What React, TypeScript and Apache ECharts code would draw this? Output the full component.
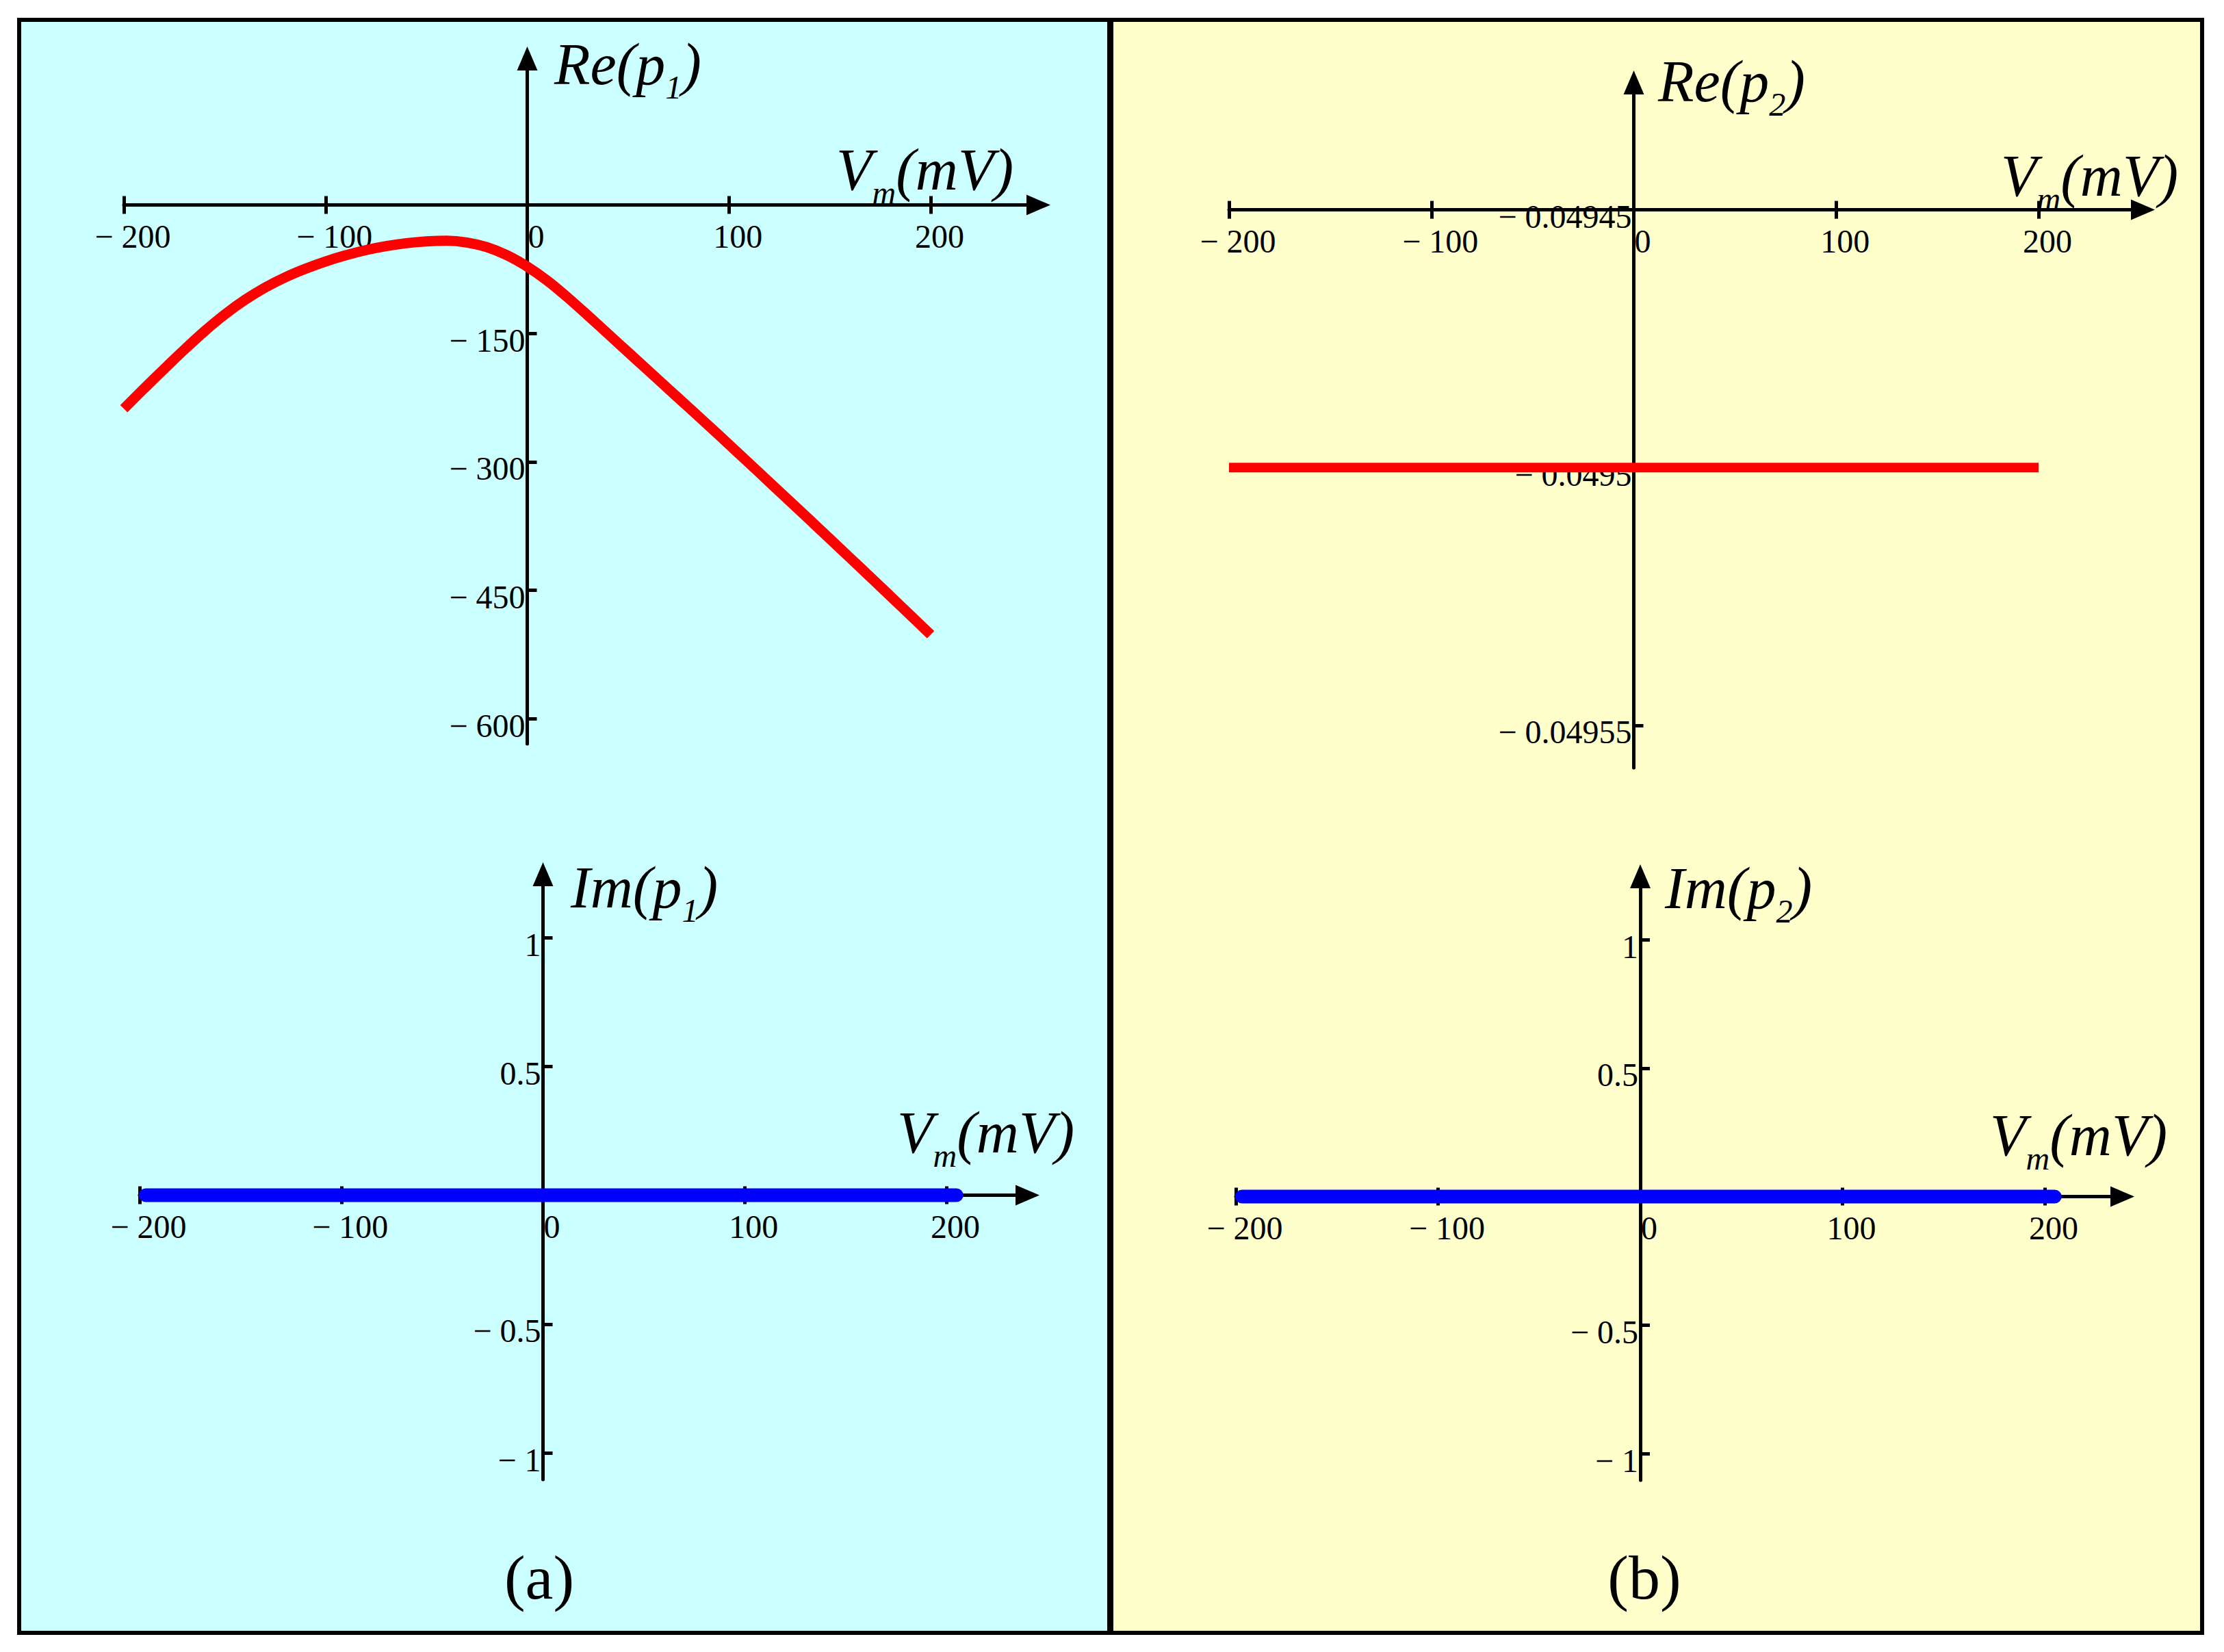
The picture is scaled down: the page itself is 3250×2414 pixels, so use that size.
import React, { useEffect, useRef } from "react";
import * as echarts from "echarts";

// ---------- data ----------
const VM_TICKS = [-200, -100, 0, 100, 200];
const RE_P1_TICKS = [-150, -300, -450, -600];
const RE_P2_TICKS = [-0.04945, -0.0495, -0.04955];
const IM_TICKS = [1, 0.5, -0.5, -1];

const vm = [
  -200, -190, -180, -170, -160, -150, -140, -130, -120, -110, -100, -90, -80, -70, -60, -50, -40, -30, -20, -10,
  0, 10, 20, 30, 40, 50, 60, 70, 80, 90, 100, 110, 120, 130, 140, 150, 160, 170, 180, 190, 200,
];
const reP1 = [
  -238, -214.5, -191.5, -169, -147.5, -128, -111, -96.5, -84.5, -74.5, -66, -58.8, -52.8, -48.1, -44.7, -42.6, -41.8,
  -43.8, -49.3, -58.8, -72, -88.5, -108, -129, -150.5, -172, -193.5, -215, -236.5, -258, -279.8, -301.7, -323.7,
  -345.7, -367.8, -390, -412.2, -434.5, -456.9, -479.4, -502,
];
const reP2Vm = [-200, 200];
const reP2 = [-0.0495, -0.0495];
const imVm = [-197, 205];
const imP1 = [0, 0];
const imP2 = [0, 0];

// ---------- style ----------
const SERIF = "'Liberation Serif', 'Times New Roman', serif";
const BLACK = "#000000";
const CYAN = "#CCFFFF";
const YELLOW = "#FFFFCC";
const RED = "#FF0000";
const BLUE = "#0000FF";

const labelFmt = (v: number) => (v < 0 ? "\u2212 " + String(-v) : String(v));

type Layout = {
  xA: number; // pixel of x = -200
  xB: number; // pixel of x = 200
  xEnd: number; // pixel of x-axis end (arrow base)
  yValA: number;
  yPxA: number;
  yValB: number;
  yPxB: number;
  yTop: number; // y-axis end (arrow base)
  yBottom: number;
  yCross: number; // value where the x axis crosses
};

const LAYOUTS: Layout[] = [
  { xA: 181, xB: 1360, xEnd: 1500, yValA: 0, yPxA: 299.5, yValB: -600, yPxB: 1050, yTop: 103, yBottom: 1087, yCross: 0 },
  { xA: 1796, xB: 2979, xEnd: 3114, yValA: -0.04945, yPxA: 306.6, yValB: -0.04955, yPxB: 1059.8, yTop: 138, yBottom: 1122, yCross: -0.04945 },
  { xA: 204, xB: 1383, xEnd: 1484, yValA: 1, yPxA: 1370, yValB: -1, yPxB: 2123, yTop: 1295, yBottom: 2162, yCross: 0 },
  { xA: 1806, xB: 2988, xEnd: 3084, yValA: 1, yPxA: 1373, yValB: -1, yPxB: 2124, yTop: 1298, yBottom: 2163, yCross: 0 },
];
const Y_TICKS = [RE_P1_TICKS, RE_P2_TICKS, IM_TICKS, IM_TICKS];

const axisLineStyle = { color: BLACK, width: 5 };
const TICK_FONT = 48;

function buildPlot(i: number, L: Layout, yTicks: number[]) {
  const kx = (L.xB - L.xA) / 400;
  const xMin = -200;
  const xMax = -200 + (L.xEnd - L.xA) / kx;
  const ky = (L.yPxB - L.yPxA) / (L.yValA - L.yValB);
  const yMax = L.yValA + (L.yPxA - L.yTop) / ky;
  const yMin = L.yValA - (L.yBottom - L.yPxA) / ky;
  const crossPx = L.yPxA + (L.yValA - L.yCross) * ky;
  const zeroPx = L.xA + 200 * kx;

  const grid = {
    left: L.xA,
    top: L.yTop,
    width: L.xEnd - L.xA,
    height: L.yBottom - L.yTop,
    containLabel: false,
    outerBoundsMode: "none",
    show: false,
  };
  const xOffset = crossPx - L.yBottom;
  const yOffset = -(zeroPx - L.xA);

  const xMain = {
    type: "value",
    gridIndex: i,
    min: xMin,
    max: xMax,
    position: "bottom",
    offset: xOffset,
    axisLine: {
      show: true,
      onZero: false,
      lineStyle: axisLineStyle,
      symbol: ["none", "triangle"],
      symbolSize: [30, 35],
      symbolOffset: [0, 17.5],
    },
    axisTick: { show: true, inside: false, length: 13, lineStyle: axisLineStyle, customValues: VM_TICKS },
    axisLabel: {
      show: true,
      customValues: VM_TICKS,
      formatter: labelFmt,
      margin: 22,
      fontFamily: SERIF,
      fontSize: TICK_FONT,
      color: BLACK,
      padding: [0, 0, 0, 26],
      showMinLabel: true,
      showMaxLabel: true,
    },
    splitLine: { show: false },
  };
  const xUp = {
    type: "value",
    gridIndex: i,
    min: xMin,
    max: xMax,
    position: "bottom",
    offset: xOffset,
    axisLine: { show: false, onZero: false },
    axisTick: { show: true, inside: true, length: 13, lineStyle: axisLineStyle, customValues: VM_TICKS },
    axisLabel: { show: false },
    splitLine: { show: false },
  };
  const yAx = {
    type: "value",
    gridIndex: i,
    min: yMin,
    max: yMax,
    position: "left",
    offset: yOffset,
    axisLine: {
      show: true,
      onZero: false,
      lineStyle: axisLineStyle,
      symbol: ["none", "triangle"],
      symbolSize: [30, 35],
      symbolOffset: [0, 17.5],
    },
    axisTick: { show: true, inside: true, length: 14, lineStyle: axisLineStyle, customValues: yTicks },
    axisLabel: {
      show: true,
      customValues: yTicks,
      formatter: labelFmt,
      margin: 3,
      fontFamily: SERIF,
      fontSize: TICK_FONT,
      color: BLACK,
      verticalAlign: "top",
      lineHeight: 20,
      showMinLabel: true,
      showMaxLabel: true,
    },
    splitLine: { show: false },
  };
  return { grid, xAxes: [xMain, xUp], yAxis: yAx };
}

const richStyles = {
  m: { fontFamily: SERIF, fontStyle: "italic", fontSize: 86, lineHeight: 114, verticalAlign: "middle", fill: BLACK },
  s: { fontFamily: SERIF, fontStyle: "italic", fontSize: 48, lineHeight: 48, verticalAlign: "bottom", fill: BLACK },
};

function label(x: number, baseline: number, main: string, sub: string, tail: string) {
  return {
    type: "text",
    x,
    y: baseline - 86,
    z: 10,
    style: {
      text: `{m|${main}}{s|${sub}}{m|${tail}}`,
      rich: richStyles,
      align: "left",
      verticalAlign: "top",
      fill: BLACK,
    },
  };
}

function panelLabel(x: number, text: string) {
  return {
    type: "text",
    x,
    y: 2305,
    z: 10,
    style: {
      text,
      fontFamily: SERIF,
      fontSize: 92,
      fill: BLACK,
      align: "center",
      verticalAlign: "middle",
    },
  };
}

export default function App() {
  const ref = useRef<HTMLDivElement>(null);

  useEffect(() => {
    if (!ref.current) return;
    const chart = echarts.init(ref.current, undefined, { renderer: "svg" });

    const plots = LAYOUTS.map((L, i) => buildPlot(i, L, Y_TICKS[i]));
    const grids = plots.map((p) => p.grid);
    const xAxes = plots.flatMap((p) => p.xAxes);
    const yAxes = plots.map((p) => p.yAxis);

    const option: any = {
      animation: false,
      backgroundColor: "#FFFFFF",
      grid: grids,
      xAxis: xAxes,
      yAxis: yAxes,
      series: [
        {
          name: "Re(p1)",
          type: "line",
          xAxisIndex: 0,
          yAxisIndex: 0,
          data: vm.map((v, k) => [v, reP1[k]]),
          symbol: "none",
          showSymbol: false,
          smooth: 0.3,
          lineStyle: { color: RED, width: 15, cap: "butt" },
          silent: true,
        },
        {
          name: "Re(p2)",
          type: "line",
          xAxisIndex: 2,
          yAxisIndex: 1,
          data: reP2Vm.map((v, k) => [v, reP2[k]]),
          symbol: "none",
          showSymbol: false,
          lineStyle: { color: RED, width: 14, cap: "butt" },
          silent: true,
        },
        {
          name: "Im(p1)",
          type: "line",
          xAxisIndex: 4,
          yAxisIndex: 2,
          data: imVm.map((v, k) => [v, imP1[k]]),
          symbol: "none",
          showSymbol: false,
          lineStyle: { color: BLUE, width: 20, cap: "round" },
          silent: true,
        },
        {
          name: "Im(p2)",
          type: "line",
          xAxisIndex: 6,
          yAxisIndex: 3,
          data: imVm.map((v, k) => [v, imP2[k]]),
          symbol: "none",
          showSymbol: false,
          lineStyle: { color: BLUE, width: 20, cap: "round" },
          silent: true,
        },
      ],
      graphic: {
        elements: [
          { type: "rect", z: -30, silent: true, shape: { x: 25, y: 26, width: 3196, height: 2363 }, style: { fill: BLACK } },
          { type: "rect", z: -20, silent: true, shape: { x: 31, y: 32, width: 1587, height: 2351 }, style: { fill: CYAN } },
          { type: "rect", z: -20, silent: true, shape: { x: 1627, y: 32, width: 1588, height: 2351 }, style: { fill: YELLOW } },
          label(810, 123, "Re(p", "1", ")"),
          label(1222, 277, "V", "m", "(mV)"),
          label(2423, 148, "Re(p", "2", ")"),
          label(2924, 286, "V", "m", "(mV)"),
          label(834, 1326, "Im(p", "1", ")"),
          label(1311, 1684, "V", "m", "(mV)"),
          label(2433, 1327, "Im(p", "2", ")"),
          label(2908, 1688, "V", "m", "(mV)"),
          panelLabel(788, "(a)"),
          panelLabel(2403, "(b)"),
        ],
      },
    };

    chart.setOption(option);
    return () => {
      chart.dispose();
    };
  }, []);

  return (
    <div
      ref={ref}
      style={{ position: "absolute", left: 0, top: 0, width: 3250, height: 2414, background: "#FFFFFF" }}
    />
  );
}
